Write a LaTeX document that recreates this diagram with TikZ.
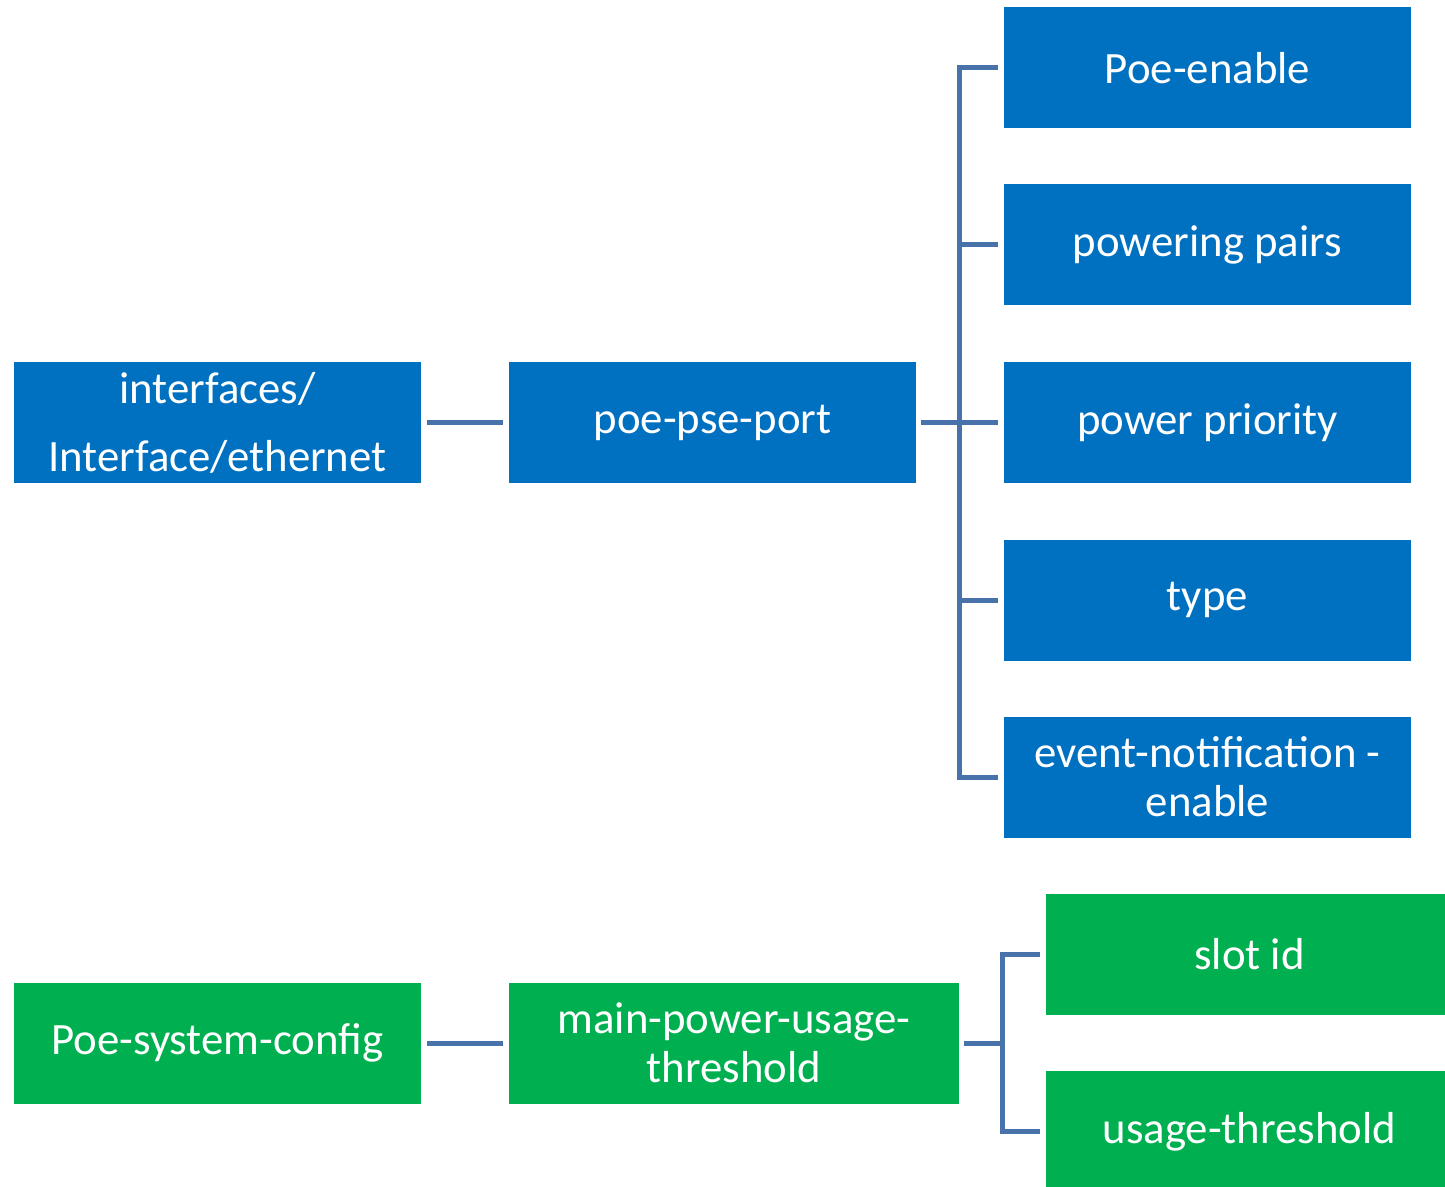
\documentclass[tikz,border=0pt]{standalone}
\usepackage{fontspec}
\setmainfont{Carlito}
\usetikzlibrary{calc,positioning}
\definecolor{boxblue}{RGB}{0,112,192}
\definecolor{boxgreen}{RGB}{0,176,80}
\definecolor{linkblue}{RGB}{71,114,170}
\begin{document}
\begin{tikzpicture}[x=0.5pt,y=-0.5pt,
box/.style={rectangle,inner sep=0pt,text=white,align=center,
 minimum height=60.5pt,font=\fontsize{22.4}{24.5}\selectfont},
wide/.style={box,minimum width=203.5pt},
bbox/.style={wide,fill=boxblue},
gbox/.style={box,fill=boxgreen},
link/.style={draw=linkblue,line width=2.5pt}]
\useasboundingbox (0,0) rectangle (1445,1187);
% interface branch
\node[bbox,font=\fontsize{22.4}{34}\selectfont] (ifc) at (217.5,422.5) {interfaces/\\Interface/ethernet};
\node[bbox] (pse) at (712.5,422.5) {poe-pse-port};
\node[bbox] (P1) at (1207.5,68) {Poe-enable};
\node[bbox] (P2) at (1207.5,245) {powering pairs};
\node[bbox] (P3) at (1207.5,422.5) {power priority};
\node[bbox] (P4) at (1207.5,600) {type};
\node[bbox] (P5) at (1207.5,777) {event-notification -\\enable};
% system config branch
\node[gbox,minimum width=203.5pt] (sys) at (217.5,1043) {Poe-system-config};
\node[gbox,minimum width=225pt] (thr) at (734,1043) {main-power-usage-\\threshold};
\node[gbox,minimum width=203.5pt] (S1) at (1249.5,954.5) {slot id};
\node[gbox,minimum width=203.5pt] (S2) at (1249.5,1131.5) {usage-threshold};
\draw[link,shorten <=3,shorten >=3] (ifc)--(pse);
\draw[link,shorten <=3,shorten >=3] (sys)--(thr);
\coordinate (J1) at ($(pse.east)+(43,0)$);
\draw[link] ([xshift=2.5]pse.east)--([xshift=-3]P3.west);
\draw[link] ([xshift=-3]P1.west)-|(J1)|-([xshift=-3]P5.west);
\foreach \n in {P2,P4} \draw[link] (J1|-\n.west)--([xshift=-3]\n.west);
\coordinate (J2) at ($(thr.east)+(43,0)$);
\draw[link] ([xshift=2.5]thr.east)--(J2);
\draw[link] ([xshift=-3]S1.west)-|(J2)|-([xshift=-3]S2.west);
\end{tikzpicture}
\end{document}
